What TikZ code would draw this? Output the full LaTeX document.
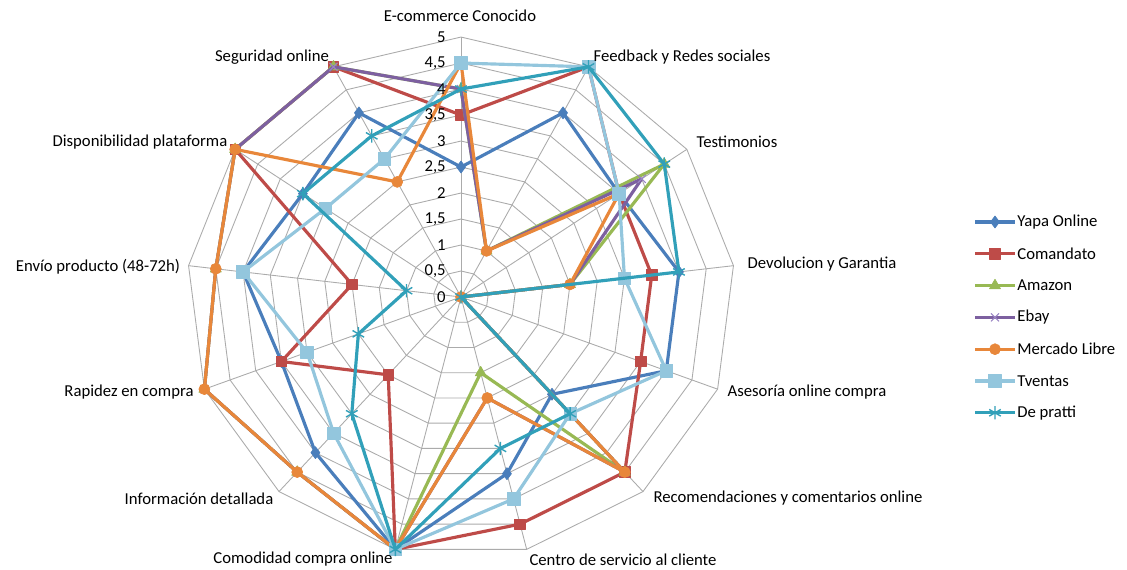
\documentclass[tikz,border=0pt]{standalone}
\usepackage{fontspec}
\setmainfont{Carlito}
\usetikzlibrary{plotmarks}

\definecolor{gridgray}{HTML}{ABABAB}
\definecolor{cyapa}{HTML}{4A7EBB}
\definecolor{ccomandato}{HTML}{BE4B48}
\definecolor{camazon}{HTML}{98B954}
\definecolor{cebay}{HTML}{7D60A0}
\definecolor{cebaymark}{HTML}{9A86C4}
\definecolor{cmlibre}{HTML}{E8873A}
\definecolor{ctventas}{HTML}{93C6DD}
\definecolor{cdepratti}{HTML}{31A0B9}

\tikzset{
  gridline/.style={draw=gridgray, line width=0.5pt},
  lab/.style={font=\fontsize{9.5}{11.5}\selectfont, inner sep=0pt},
  series/.style={line width=1.8pt, line join=round, mark options={solid, line width=0.4pt}},
  yapa/.style={series, color=cyapa, mark=diamond*, mark size=3.4pt},
  comandato/.style={series, color=ccomandato, mark=square*, mark size=3pt},
  amazon/.style={series, color=camazon, mark=triangle*, mark size=3.6pt},
  ebay/.style={series, color=cebay, mark=x, mark size=3.2pt, mark options={line width=0.6pt, color=cebaymark}},
  mlibre/.style={series, color=cmlibre, mark=*, mark size=3.1pt},
  tventas/.style={series, color=ctventas, mark=square*, mark size=3.6pt},
  depratti/.style={series, color=cdepratti, mark=asterisk, mark size=3.8pt, mark options={line width=0.8pt}}
}

\begin{document}
\begin{tikzpicture}[x=0.02cm, y=-0.02cm]
    \useasboundingbox (0,0) rectangle (1127,570);
    % radar grid, 13 axes
    \begin{scope}[shift={(461,297)}, x=1.098cm, y=1.04cm]
        \foreach \r in {0.5,1,...,5} {
            \draw[gridline] (90:\r) \foreach \k in {1,...,12} {-- ({90-\k*360/13}:\r)} -- cycle;
        }
        \foreach \k in {0,...,12} {
            \draw[gridline] (0,0) -- ({90-\k*360/13}:5);
        }
        % series
        \foreach \s/\vals in {
            yapa/{2.5,4,3.5,4,4,2.5,3.5,5,4,3.5,4,3.5,4},
            comandato/{3.5,5,3.5,3.5,3.5,4.5,4.5,5,2,3.5,2,5,5},
            amazon/{4,1,4.5,2,0,4.5,1.5,5,4.5,5,4.5,5,5},
            ebay/{4,1,4,2,0,4.5,2,5,4.5,5,4.5,5,5},
            mlibre/{4.5,1,3.5,2,0,4.5,2,5,4.5,5,4.5,5,2.5},
            tventas/{4.5,5,3.5,3,4,3,4,5,3.5,3,4,3,3},
            depratti/{4,5,4.5,4,0,3,3,5,3,2,1,3.5,3.5}} {
            \foreach \v [count=\k from 0] in \vals {
                \coordinate (\s\k) at ({90-\k*360/13}:\v);
            }
            \draw[\s] plot[samples at={0,...,12}] (\s\x) -- cycle;
        }
    \end{scope}
    % scale values
    \foreach \r/\t in {0/0, 0.5/{0,5}, 1/1, 1.5/{1,5}, 2/2, 2.5/{2,5}, 3/3, 3.5/{3,5}, 4/4, 4.5/{4,5}, 5/5} {
        \node[lab, anchor=east] (v\r) at (446,{297-52*\r}) {\t};
    }
    % axis names
    \node[lab] (ecom) at (460,16) {E-commerce Conocido};
    \node[lab] (feed) at (682,57) {Feedback y Redes sociales};
    \node[lab] (test) at (737,142) {Testimonios};
    \node[lab] (devo) at (822,264) {Devolucion y Garantia};
    \node[lab] (ases) at (807,392) {Asesoría online compra};
    \node[lab] (reco) at (788,498) {Recomendaciones y comentarios online};
    \node[lab] (cent) at (623,560) {Centro de servicio al cliente};
    \node[lab] (como) at (303,559) {Comodidad compra online};
    \node[lab] (info) at (199,499) {Información detallada};
    \node[lab] (rapi) at (129,392) {Rapidez en compra};
    \node[lab] (envi) at (98,267) {Envío producto (48-72h)};
    \node[lab] (disp) at (140,142) {Disponibilidad plataforma};
    \node[lab] (segu) at (272,57) {Seguridad online};
    % legend
    \foreach \s/\t [count=\i from 0, evaluate=\i as \yy using 222+31.8*\i] in {yapa/Yapa Online, comandato/Comandato, amazon/Amazon, ebay/Ebay, mlibre/Mercado Libre, tventas/Tventas, depratti/De pratti} {
        \draw[\s] plot[mark indices={2}] coordinates {(975,\yy) (995,\yy) (1015,\yy)};
        \node[lab, anchor=west] (l\s) at (1017,\yy) {\t};
    }
\end{tikzpicture}
\end{document}
